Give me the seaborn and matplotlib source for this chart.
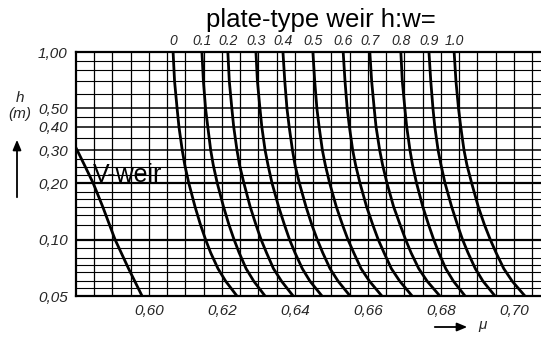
import numpy as np
import pandas as pd
import matplotlib
matplotlib.use("Agg")
import matplotlib.pyplot as plt
import seaborn as sns
from matplotlib.ticker import FixedLocator, NullLocator, NullFormatter

# ---------------- data ----------------
h_levels = [1.0, 0.7, 0.5, 0.4, 0.3, 0.25, 0.2, 0.15, 0.12, 0.1, 0.085, 0.07, 0.06, 0.05]

ratio_labels = ["0", "0.1", "0.2", "0.3", "0.4", "0.5", "0.6", "0.7", "0.8", "0.9", "1.0"]

mu_r00 = [0.6066, 0.6070, 0.6077, 0.6082, 0.6091, 0.6098, 0.6109, 0.6126, 0.6141, 0.6155, 0.6169, 0.6189, 0.6210, 0.6241]
mu_r01 = [0.6145, 0.6149, 0.6155, 0.6161, 0.6169, 0.6176, 0.6187, 0.6204, 0.6219, 0.6233, 0.6247, 0.6266, 0.6287, 0.6318]
mu_r02 = [0.6216, 0.6220, 0.6227, 0.6232, 0.6241, 0.6248, 0.6260, 0.6277, 0.6293, 0.6307, 0.6322, 0.6341, 0.6363, 0.6395]
mu_r03 = [0.6293, 0.6297, 0.6304, 0.6309, 0.6318, 0.6326, 0.6337, 0.6355, 0.6371, 0.6385, 0.6400, 0.6420, 0.6441, 0.6474]
mu_r04 = [0.6367, 0.6372, 0.6378, 0.6384, 0.6393, 0.6400, 0.6412, 0.6430, 0.6446, 0.6461, 0.6476, 0.6496, 0.6518, 0.6551]
mu_r05 = [0.6449, 0.6454, 0.6460, 0.6466, 0.6475, 0.6483, 0.6495, 0.6513, 0.6530, 0.6545, 0.6561, 0.6581, 0.6604, 0.6638]
mu_r06 = [0.6532, 0.6537, 0.6543, 0.6549, 0.6558, 0.6566, 0.6578, 0.6596, 0.6613, 0.6628, 0.6644, 0.6664, 0.6687, 0.6721]
mu_r07 = [0.6605, 0.6610, 0.6617, 0.6622, 0.6632, 0.6640, 0.6652, 0.6670, 0.6688, 0.6703, 0.6718, 0.6739, 0.6762, 0.6797]
mu_r08 = [0.6690, 0.6694, 0.6701, 0.6706, 0.6715, 0.6722, 0.6733, 0.6750, 0.6766, 0.6780, 0.6794, 0.6813, 0.6834, 0.6866]
mu_r09 = [0.6767, 0.6772, 0.6778, 0.6783, 0.6792, 0.6800, 0.6811, 0.6829, 0.6845, 0.6859, 0.6874, 0.6894, 0.6915, 0.6948]
mu_r10 = [0.6836, 0.6841, 0.6848, 0.6854, 0.6863, 0.6871, 0.6884, 0.6902, 0.6919, 0.6935, 0.6951, 0.6972, 0.6995, 0.7030]

h_vweir = [0.33, 0.3, 0.25, 0.2, 0.15, 0.1, 0.07, 0.05]
mu_vweir = [0.5792, 0.5803, 0.5823, 0.5847, 0.5873, 0.5907, 0.5944, 0.5981]

x_ticks = [0.60, 0.62, 0.64, 0.66, 0.68, 0.70]
x_ticklabels = ["0,60", "0,62", "0,64", "0,66", "0,68", "0,70"]
y_ticks = [1.0, 0.5, 0.4, 0.3, 0.2, 0.1, 0.05]
y_ticklabels = ["1,00", "0,50", "0,40", "0,30", "0,20", "0,10", "0,05"]

# ---------------- build long table ----------------
plate_series = [mu_r00, mu_r01, mu_r02, mu_r03, mu_r04, mu_r05,
                mu_r06, mu_r07, mu_r08, mu_r09, mu_r10]
rows = []
for lab, mus in zip(ratio_labels, plate_series):
    for h, m in zip(h_levels, mus):
        rows.append({"curve": "plate " + lab, "mu": m, "h": h})
for h, m in zip(h_vweir, mu_vweir):
    rows.append({"curve": "V-weir", "mu": m, "h": h})
df = pd.DataFrame(rows)

# ---------------- style ----------------
sns.set_theme(style="white")
plt.rcParams["font.family"] = ["Liberation Sans", "DejaVu Sans"]
narrow = ["Liberation Sans Narrow", "Liberation Sans", "DejaVu Sans"]

W, H = 541, 337
fig = plt.figure(figsize=(W / 100, H / 100), dpi=100)
left, right, top, bottom = 76, 541, 52, 296
ax = fig.add_axes([left / W, 1 - bottom / H, (right - left) / W, (bottom - top) / H])

ax.set_yscale("log")
ax.set_xlim(0.58, 0.7074)
ax.set_ylim(0.05, 1.0)

# grid
for xv in np.arange(0.585, 0.7074, 0.005):
    ax.axvline(xv, color="black", lw=0.9, zorder=1)
h_grid = [0.9, 0.8, 0.7, 0.6, 0.45, 0.35, 0.27, 0.245, 0.22,
          0.18, 0.165, 0.15, 0.135, 0.12, 0.09, 0.08, 0.073, 0.067, 0.06, 0.055]
for hv in h_grid:
    ax.axhline(hv, color="black", lw=0.8, zorder=1)
for hv in [0.5, 0.4, 0.3]:
    ax.axhline(hv, color="black", lw=1.1, zorder=1)
for hv in [0.2, 0.1]:
    ax.axhline(hv, color="black", lw=1.6, zorder=1)

sns.lineplot(data=df, x="mu", y="h", hue="curve",
             palette=["black"] * df["curve"].nunique(),
             estimator=None, sort=False, legend=False,
             linewidth=2.0, ax=ax, zorder=3)
for ln in ax.get_lines():
    ln.set_solid_joinstyle("round")

# spines
for s in ["left", "bottom", "top"]:
    ax.spines[s].set_visible(True)
    ax.spines[s].set_color("black")
    ax.spines[s].set_linewidth(1.6)
ax.spines["right"].set_visible(False)

ax.xaxis.set_major_locator(FixedLocator(x_ticks))
ax.set_xticklabels(x_ticklabels)
ax.yaxis.set_major_locator(FixedLocator(y_ticks))
ax.set_yticklabels(y_ticklabels)
ax.yaxis.set_minor_locator(NullLocator())
ax.yaxis.set_minor_formatter(NullFormatter())
ax.tick_params(axis="both", length=0, pad=6, labelsize=11)
for t in ax.get_xticklabels() + ax.get_yticklabels():
    t.set_fontstyle("italic")
    t.set_family(narrow)
ax.set_xlabel("")
ax.set_ylabel("")

# top labels of each plate curve
for lab, mus in zip(ratio_labels, plate_series):
    ax.annotate(lab, xy=(mus[0], 1.0), xytext=(0, 3), textcoords="offset points",
                ha="center", va="bottom", fontsize=10, fontstyle="italic",
                family=narrow, annotation_clip=False)

# titles and annotations
fig.text(321 / W, 1 - 27 / H, "plate-type weir h:w=", ha="center", va="baseline",
         fontsize=18.5, color="black")
ax.text(0.5846, 0.203, "V-weir", ha="left", va="baseline", fontsize=18,
        color="black", zorder=4)

fig.text(20 / W, 1 - 98 / H, "h", ha="center", va="center", fontsize=11,
         fontstyle="italic", family=narrow)
fig.text(20 / W, 1 - 114 / H, "(m)", ha="center", va="center", fontsize=11,
         fontstyle="italic", family=narrow)
fig.add_artist(matplotlib.patches.FancyArrowPatch(
    (17 / W, 1 - 200 / H), (17 / W, 1 - 137 / H), transform=fig.transFigure,
    arrowstyle="-|>,head_length=6,head_width=2.5", color="black", lw=1.3))
fig.add_artist(matplotlib.patches.FancyArrowPatch(
    (432 / W, 1 - 327 / H), (470 / W, 1 - 327 / H), transform=fig.transFigure,
    arrowstyle="-|>,head_length=6,head_width=2.5", color="black", lw=1.3))
fig.text(483 / W, 1 - 325 / H, "μ", ha="center", va="center", fontsize=11,
         fontstyle="italic", family=narrow)

fig.savefig("out.png", dpi=100)
